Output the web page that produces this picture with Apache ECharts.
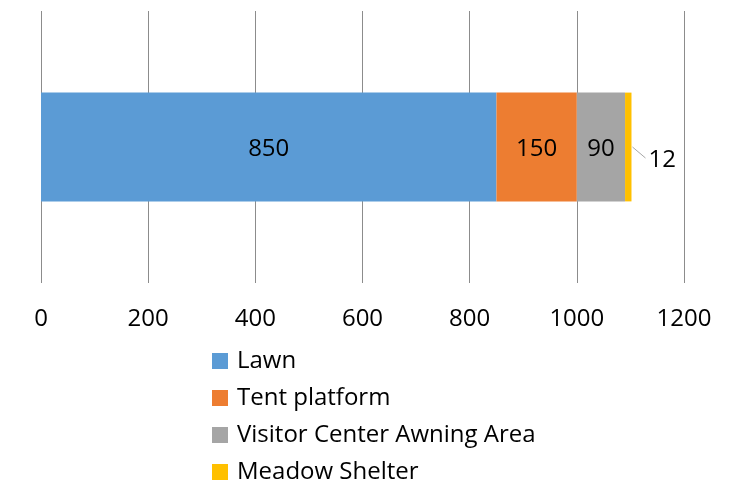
<!DOCTYPE html>
<html>
<head>
<meta charset="utf-8">
<script src="https://cdn.jsdelivr.net/npm/echarts@6/dist/echarts.min.js"></script>
<style>
  html, body { margin: 0; padding: 0; background: #fff; }
  #chart { width: 730px; height: 487px; }
</style>
</head>
<body>
<div id="chart"></div>
<script>
// Shelter capacity by area, stacked in one horizontal bar
const categories = ['Capacity'];
const seriesNames = ['Lawn', 'Tent platform', 'Visitor Center Awning Area', 'Meadow Shelter'];
const lawn = [850];
const tentPlatform = [150];
const visitorAwning = [90];
const meadowShelter = [12];
const xTicks = [0, 200, 400, 600, 800, 1000, 1200];
const colors = ['#5B9BD5', '#ED7D31', '#A5A5A5', '#FFC000'];

const FONT = 'Open Sans';
const values = [lawn, tentPlatform, visitorAwning, meadowShelter];

// offset of the outside label for the slim last segment
const OUT_DX = 17, OUT_DY = 13;

const series = seriesNames.map((name, i) => {
  const s = {
    name: name,
    type: 'bar',
    stack: 'total',
    barWidth: '40%',
    data: values[i],
    itemStyle: { color: colors[i] },
    label: {
      show: true,
      position: 'inside',
      color: '#000',
      fontFamily: FONT,
      fontSize: 24,
      offset: [0, 2]
    }
  };
  if (i === values.length - 1) {
    s.label = {
      show: true,
      position: 'right',
      distance: 0,
      color: '#000',
      fontFamily: FONT,
      fontSize: 24
    };
    s.labelLayout = { dx: OUT_DX, dy: OUT_DY };
  }
  return s;
});

const chart = echarts.init(document.getElementById('chart'), null, { renderer: 'canvas' });
chart.setOption({
  animation: false,
  textStyle: { fontFamily: FONT },
  grid: { left: 41, right: 46, top: 11, bottom: 204, containLabel: false },
  xAxis: {
    type: 'value',
    min: xTicks[0],
    max: xTicks[xTicks.length - 1],
    interval: xTicks[1] - xTicks[0],
    axisLine: { show: false },
    axisTick: { show: false },
    splitLine: { show: true, lineStyle: { color: '#8c8c8c', width: 1 } },
    axisLabel: {
      color: '#000', fontFamily: FONT, fontSize: 24, margin: 24,
      formatter: v => String(v)
    }
  },
  yAxis: {
    type: 'category',
    data: categories,
    axisLine: { show: false },
    axisTick: { show: false },
    axisLabel: { show: false }
  },
  legend: {
    orient: 'vertical',
    left: 212,
    top: 349,
    padding: 0,
    itemWidth: 16,
    itemHeight: 16,
    itemGap: 13,
    icon: 'rect',
    textStyle: { color: '#000', fontFamily: FONT, fontSize: 24, lineHeight: 24, padding: [0, 0, 0, 4] },
    data: seriesNames
  },
  series: series
});

// Leader line from the end of the stack to the outside label
const total = values.reduce((acc, arr) => acc + arr[0], 0);
const end = chart.convertToPixel({ xAxisIndex: 0, yAxisIndex: 0 }, [total, 0]);
chart.setOption({
  graphic: [{
    type: 'line',
    silent: true,
    shape: { x1: end[0] + 1, y1: end[1], x2: end[0] + OUT_DX - 3, y2: end[1] + OUT_DY - 2 },
    style: { stroke: '#a6a6a6', lineWidth: 1 }
  }]
});
</script>
</body>
</html>
